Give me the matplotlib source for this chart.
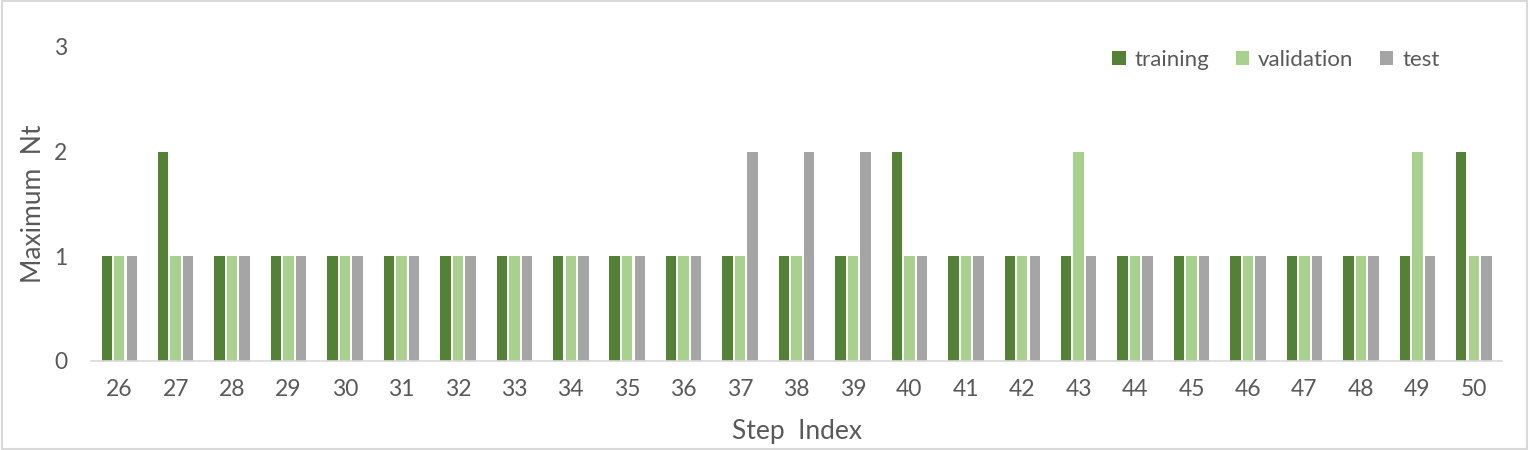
import numpy as np
import matplotlib.pyplot as plt

steps = list(range(26, 51))
training = [1, 2, 1, 1, 1, 1, 1, 1, 1, 1, 1, 1, 1, 1, 2, 1, 1, 1, 1, 1, 1, 1, 1, 1, 2]
validation = [1, 1, 1, 1, 1, 1, 1, 1, 1, 1, 1, 1, 1, 1, 1, 1, 1, 2, 1, 1, 1, 1, 1, 2, 1]
test = [1, 1, 1, 1, 1, 1, 1, 1, 1, 1, 1, 2, 2, 2, 1, 1, 1, 1, 1, 1, 1, 1, 1, 1, 1]

plt.rcParams['font.family'] = ['Lato', 'DejaVu Sans']
txt = '#595959'

fig = plt.figure(figsize=(15.3, 4.5), dpi=100)
ax = fig.add_axes([0.0595, 0.198, 0.9222, 0.6976])

x = np.arange(len(steps))
w = 0.185
off = 0.222
ax.bar(x - off, training, w, color='#538135', label='training')
ax.bar(x, validation, w, color='#A9D18E', label='validation')
ax.bar(x + off, test, w, color='#A5A5A5', label='test')

ax.set_xlim(-0.5, len(steps) - 0.5)
ax.set_ylim(0, 3)
ax.set_yticks([0, 1, 2, 3])
ax.set_xticks(x)
ax.set_xticklabels([str(s) for s in steps])
ax.tick_params(length=0, labelsize=16.5, colors=txt)
ax.tick_params(axis='x', pad=13)
ax.tick_params(axis='y', pad=17)
for s in ['top', 'right', 'left']:
    ax.spines[s].set_visible(False)
ax.spines['bottom'].set_color('#d9d9d9')
ax.spines['bottom'].set_linewidth(1.2)

ax.set_xlabel('Step  Index', fontsize=19, color=txt, labelpad=14)
ax.set_ylabel('Maximum  Nt', fontsize=19, color=txt, labelpad=6)

leg = ax.legend(loc='upper right', bbox_to_anchor=(0.97, 1.055), ncol=3, frameon=False,
                fontsize=16, handlelength=0.6, handleheight=0.6, handletextpad=0.4,
                columnspacing=1.2)
for t in leg.get_texts():
    t.set_color(txt)

fig.patches.append(plt.Rectangle((0.001, 0.002), 0.997, 0.995, transform=fig.transFigure,
                                 fill=False, edgecolor='#d9d9d9', linewidth=1.5))

fig.savefig('out.png', dpi=100)
